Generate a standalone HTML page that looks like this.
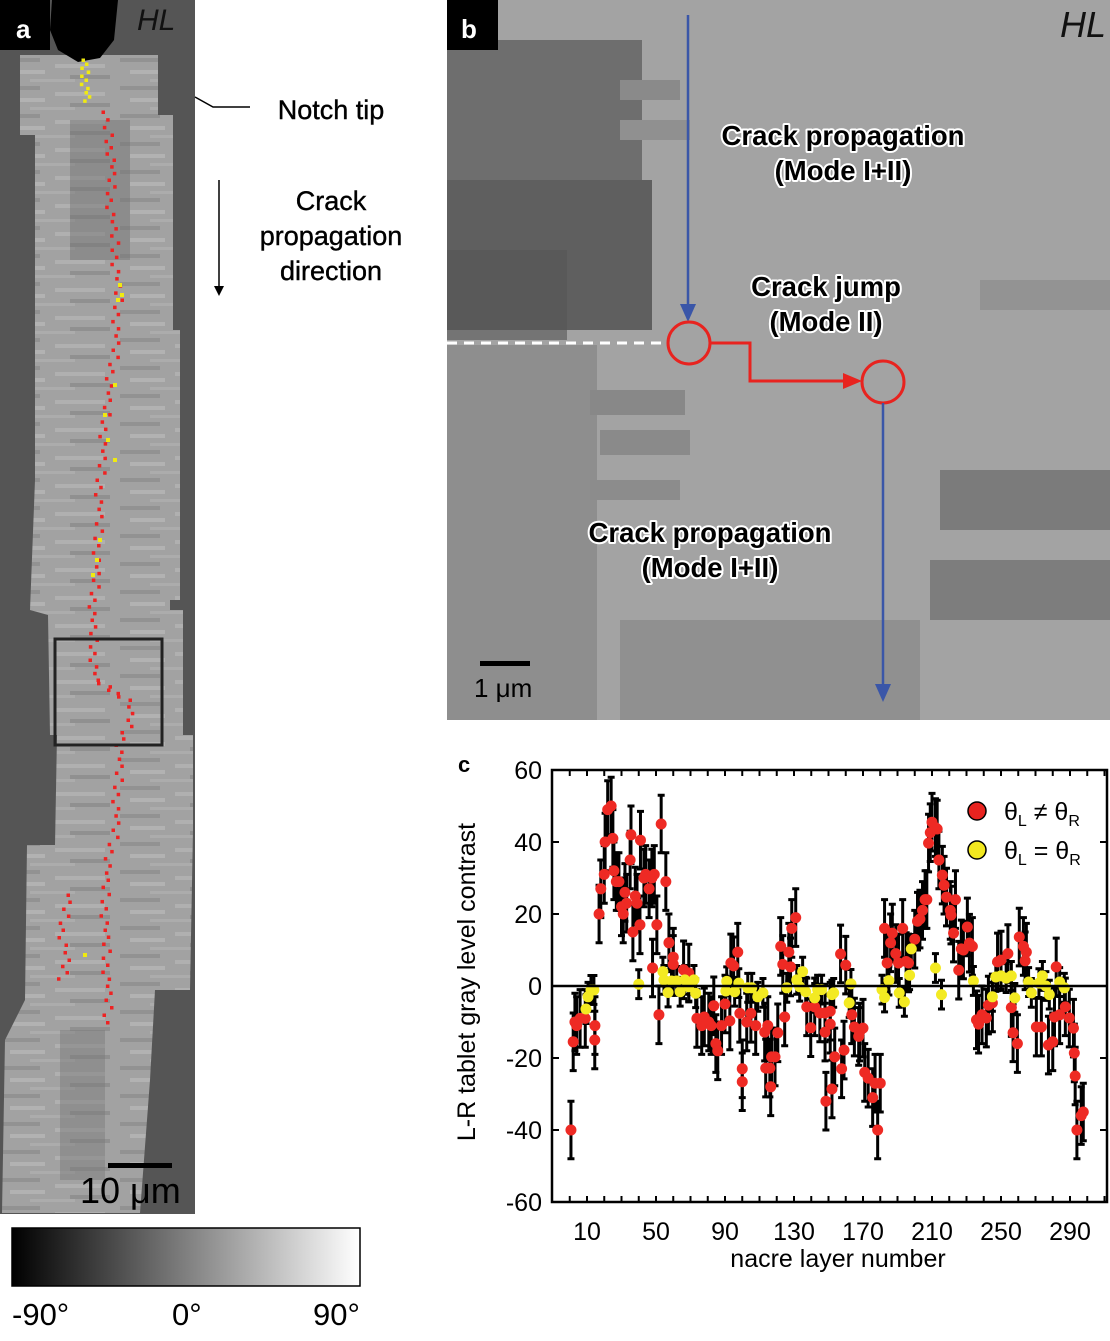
<!DOCTYPE html>
<html><head><meta charset="utf-8">
<style>
html,body{margin:0;padding:0;background:#fff;}
body{width:1110px;height:1336px;overflow:hidden;font-family:"Liberation Sans",Arial,sans-serif;}
svg text{font-family:"Liberation Sans",Arial,sans-serif;}
.halo{paint-order:stroke;stroke:#fff;stroke-width:4px;stroke-linejoin:round;font-weight:bold;}
</style></head>
<body>
<svg id="fig" width="1110" height="1336" viewBox="0 0 1110 1336" xmlns="http://www.w3.org/2000/svg">
<defs>
  <pattern id="stripes" width="120" height="28" patternUnits="userSpaceOnUse">
    <rect width="120" height="28" fill="#a2a2a2"/>
    <rect x="0" y="2" width="40" height="4" fill="#929292"/>
    <rect x="55" y="8" width="50" height="4" fill="#b0b0b0"/>
    <rect x="10" y="14" width="35" height="4" fill="#b2b2b2"/>
    <rect x="70" y="19" width="40" height="4" fill="#909090"/>
    <rect x="30" y="23" width="45" height="3" fill="#acacac"/>
  </pattern>
  <linearGradient id="cbar" x1="0" x2="1" y1="0" y2="0">
    <stop offset="0" stop-color="#000"/><stop offset="1" stop-color="#fff"/>
  </linearGradient>
  <clipPath id="clipB"><rect x="447" y="0" width="663" height="720"/></clipPath>
</defs>

<!-- Panel a -->
<g>
  <rect x="0" y="0" width="195" height="1214" fill="#555"/>
  <polygon fill="url(#stripes)" points="20,55 158,55 158,115 173,115 173,330 180,330 180,600 170,600 170,610 183,610 183,735 193,735 193,830 190,990 155,990 150,1080 140,1213 2,1213 5,1040 25,1000 27,845 55,845 57,735 50,735 48,615 30,610 35,480 35,135 20,135"/>
  <rect x="70" y="120" width="60" height="140" fill="#707070" opacity="0.45"/>
  <rect x="60" y="1030" width="45" height="150" fill="#777" opacity="0.45"/>
  <path d="M52,0 L118,0 L114,40 L100,58 L78,62 L58,50 L50,30 Z" fill="#000"/>
  <g id="crackDots"></g>
  <rect x="55" y="639" width="107" height="106" fill="none" stroke="#222" stroke-width="3"/>
  <rect x="0" y="0" width="50" height="50" fill="#000"/>
  <text x="16" y="38" font-size="26" font-weight="bold" fill="#fff">a</text>
  <text x="137" y="30" font-size="30" font-style="italic" fill="#111">HL</text>
  <rect x="108" y="1163" width="64" height="5" fill="#000"/>
  <text x="80" y="1203" font-size="36" fill="#000">10 μm</text>
</g>
<g>
  <polyline points="195,97 213,107 250,107" fill="none" stroke="#000" stroke-width="1.5"/>
  <text x="331" y="119" font-size="27" text-anchor="middle" stroke="#000" stroke-width="0.4">Notch tip</text>
  <line x1="219" y1="180" x2="219" y2="287" stroke="#000" stroke-width="1.5"/>
  <polygon points="214,286 224,286 219,296" fill="#000"/>
  <text x="331" y="210" font-size="27" text-anchor="middle" stroke="#000" stroke-width="0.4">Crack</text>
  <text x="331" y="245" font-size="27" text-anchor="middle" stroke="#000" stroke-width="0.4">propagation</text>
  <text x="331" y="280" font-size="27" text-anchor="middle" stroke="#000" stroke-width="0.4">direction</text>
</g>
<g>
  <rect x="12" y="1228" width="348" height="58" fill="url(#cbar)" stroke="#000" stroke-width="1.5"/>
  <text x="12" y="1325" font-size="31">-90°</text>
  <text x="172" y="1325" font-size="31">0°</text>
  <text x="313" y="1325" font-size="31">90°</text>
</g>

<!-- Panel b -->
<g clip-path="url(#clipB)">
  <rect x="447" y="0" width="663" height="720" fill="#a3a3a3"/>
  <rect x="447" y="40" width="195" height="200" fill="#6e6e6e"/>
  <rect x="447" y="180" width="205" height="150" fill="#5f5f5f"/>
  <rect x="447" y="250" width="120" height="90" fill="#555" opacity="0.6"/>
  <rect x="447" y="345" width="150" height="375" fill="#8e8e8e"/>
  <rect x="590" y="390" width="95" height="25" fill="#888"/>
  <rect x="600" y="430" width="90" height="25" fill="#8a8a8a"/>
  <rect x="590" y="480" width="90" height="20" fill="#8c8c8c"/>
  <rect x="620" y="80" width="60" height="20" fill="#8a8a8a"/>
  <rect x="620" y="120" width="70" height="20" fill="#909090"/>
  <rect x="940" y="470" width="170" height="60" fill="#7b7b7b"/>
  <rect x="930" y="560" width="180" height="60" fill="#7d7d7d"/>
  <rect x="980" y="280" width="130" height="30" fill="#939393"/>
  <rect x="620" y="620" width="300" height="100" fill="#909090"/>
  <rect x="447" y="0" width="51" height="50" fill="#000"/>
  <text x="461" y="38" font-size="26" font-weight="bold" fill="#fff">b</text>
  <text x="1060" y="37" font-size="36" font-style="italic" fill="#111">HL</text>
  <line x1="447" y1="343" x2="667" y2="343" stroke="#fff" stroke-width="3" stroke-dasharray="10,7"/>
  <line x1="688" y1="15" x2="688" y2="305" stroke="#3a56a8" stroke-width="2.5"/>
  <polygon points="680,304 696,304 688,322" fill="#3a56a8"/>
  <circle cx="689" cy="343" r="21" fill="none" stroke="#e8231f" stroke-width="3"/>
  <polyline points="710,343 750,343 750,381 845,381" fill="none" stroke="#e8231f" stroke-width="3"/>
  <polygon points="843,373 862,381 843,389" fill="#e8231f"/>
  <circle cx="883" cy="382" r="21" fill="none" stroke="#e8231f" stroke-width="3"/>
  <line x1="883" y1="403" x2="883" y2="685" stroke="#3a56a8" stroke-width="2.5"/>
  <polygon points="875,684 891,684 883,702" fill="#3a56a8"/>
  <text class="halo" x="843" y="145" font-size="27.5" text-anchor="middle">Crack propagation</text>
  <text class="halo" x="843" y="180" font-size="27.5" text-anchor="middle">(Mode I+II)</text>
  <text class="halo" x="826" y="296" font-size="27.5" text-anchor="middle">Crack jump</text>
  <text class="halo" x="826" y="331" font-size="27.5" text-anchor="middle">(Mode II)</text>
  <text class="halo" x="710" y="542" font-size="27.5" text-anchor="middle">Crack propagation</text>
  <text class="halo" x="710" y="577" font-size="27.5" text-anchor="middle">(Mode I+II)</text>
  <rect x="480" y="661" width="50" height="5" fill="#000"/>
  <text x="474" y="697" font-size="26" fill="#000">1 μm</text>
</g>

<!-- Panel c -->
<g id="chartC">
  <text x="458" y="772" font-size="22" font-weight="bold">c</text>
  <text transform="translate(475,982) rotate(-90)" font-size="25" text-anchor="middle">L-R tablet gray level contrast</text>
  <text x="838" y="1267" font-size="25" text-anchor="middle">nacre layer number</text>
  <g id="ticks"></g>
  <g id="bars"></g>
  <g id="pts"></g>
  <line id="zero" x1="552" x2="1107" stroke="#000" stroke-width="2.5"/>
  <rect x="552" y="770" width="555" height="432" fill="none" stroke="#000" stroke-width="2.5"/>
  <g>
    <circle cx="977" cy="811" r="9" fill="#e8231f" stroke="#000" stroke-width="1.5"/>
    <text x="1004" y="820" font-size="25">θ<tspan font-size="16" dy="6">L</tspan><tspan dy="-6"> ≠ θ</tspan><tspan font-size="16" dy="6">R</tspan></text>
    <circle cx="977" cy="850" r="9" fill="#f2e81f" stroke="#000" stroke-width="1.5"/>
    <text x="1004" y="859" font-size="25">θ<tspan font-size="16" dy="6">L</tspan><tspan dy="-6"> = θ</tspan><tspan font-size="16" dy="6">R</tspan></text>
  </g>
</g>
</svg>
<script>
// ---- Chart data (panel c) ----
const yTicks = [60, 40, 20, 0, -20, -40, -60];
const xTickLabels = [10, 50, 90, 130, 170, 210, 250, 290];
const redLayer = [0.7,2,3,4,6,9,14.6,14.5,17,18,20,20.5,22,24,25,25.6,27,28.5,30,31,32,33,35,35.5,36.6,38,39,40.7,41,43,44,46,47.6,49,50.5,51.7,53,55.7,48,57.5,60,60,66,69,73.7,76.5,78,80.6,82,83.5,84.7,85.8,88,90,92.8,93.4,95,97.4,98.6,100,100,102.6,105,107.8,113,113.6,116,114.8,117,116.5,119,120.6,122.3,123.5,124.6,127,128.7,131,128,137.4,139.7,142,145,148,148.5,152,151,148,151,153.6,157.6,159,157,160,163.5,165,168,170,167.5,171,173,175.6,177,178.5,180,182.5,184,186,187,189,190.6,193,195,196.4,200,201.6,203,204.5,206,207,208,209,210,212,213,214,216,217,218.4,220.6,221,223.6,222.5,225.5,227,228.2,230.5,231.7,233.4,235.8,237,239,241.5,242.7,245,248,250,254,256,257,259.5,260.6,263,264.7,264,270.5,273.4,277.5,280,282,281,284,287.3,289.6,292,292.5,293,294,296.5,297.7];
const redValue = [-40,-15.5,-10,-11,-9,-9,-11,-15,20,27,31,40,49,50,41,32,29,29,22,20,26,23,35,42,15,25,23,17,40.5,30,31,27,30,31,17,-8,45,29,5,12,8,6,4.5,3.6,-9,-11,-8.6,-10,-11,-5.5,-16,-18,-11,-5,-9.7,6.4,5.6,9.4,-7.6,-23,-26.6,-10,-7.6,-11,-12.8,-22.8,-22.8,-11,-19.7,-28,-19.7,-13,11,6,-8.6,9.4,16,19,5.3,-5.8,-11.6,-5.8,-7.5,-7.5,-32,-28.6,-7,-12.8,-10.6,-19.7,-23,-17.8,8.9,5.8,-8,-11.4,-12.8,-11.7,-14,-24,-25.6,-31,-27,-40,-27,16,6.4,12,14.7,9,6.4,16,6.8,6.4,13,18,18.6,21,24,24,39.7,42.6,45.5,44,43.6,35,30.8,28,24.7,21,19.7,24,14.7,4.4,10.3,10,16.4,11.9,11,-9.4,-10.6,-8,-8.9,-5.3,-4.7,6.7,7.2,9,-6,-13,-16,13.6,11,9.4,7,-11.4,-11.4,-16.4,-15.5,5.3,-8.6,-8,-5.8,-8.9,-11.7,-18.6,-25,-40,-36,-35];
const redError = 8;
const yellowLayer = [9.4,10.6,12.3,14,40,54,54.6,57,59,62,64,66.7,69,72,73,91,90.5,95.6,98,103.2,105.5,109,112,125.8,131.6,135,133.3,136.8,143.7,142,152,146,153,162,163,181,182.5,185,191,194,197,198,212,215.5,234,245,247,250,253,256,258,266,267.6,272,274,276,278,284,286.7];
const yellowValue = [-6.4,-3,-1.1,-1.1,0.5,4,1.7,-1.8,1.4,1.4,-1.6,1.7,-0.2,1.7,-2,1.3,-1.4,-1.6,0.8,-0.5,-0.5,-3,-1.9,-0.5,1.7,4,-0.2,-1.6,-1,-3.3,-2.4,-1,-1.9,-4.7,0.6,-1,-3.2,1.5,-1.9,-4.4,3,10.3,5,-2.4,1.4,-3,2.5,2.8,2.2,2.8,-3.3,1.1,-1.9,0.8,2.8,0,-2.4,1.1,-0.5];
const yellowError = 4;

const NS = "http://www.w3.org/2000/svg";
const X0 = 552, X1 = 1107, Y0 = 770, Y1 = 1202;
function xs(n){ return 587 + (n - 10) * (483 / 280); }
function ys(v){ return 986 - v * (432 / 120); }
function mk(tag, attrs, parent){ const e = document.createElementNS(NS, tag); for (const k in attrs) e.setAttribute(k, attrs[k]); parent.appendChild(e); return e; }

const ticks = document.getElementById('ticks');
yTicks.forEach(v => {
  const y = ys(v);
  const t1 = mk('line', {x1: X0, x2: X0 + 7, y1: y, y2: y, stroke: '#000', 'stroke-width': 2}, ticks);
  
  
  const t2 = mk('line', {x1: X1 - 7, x2: X1, y1: y, y2: y, stroke: '#000', 'stroke-width': 2}, ticks);
  
  
  const lb = mk('text', {x: 542, y: y + 9, 'font-size': 25, 'text-anchor': 'end'}, ticks);
  lb.textContent = v;
  
  
});
for (let n = 0; n <= 310; n += 10) {
  const x = xs(n);
  if (x < X0 || x > X1) continue;
  const a = mk('line', {x1: x, x2: x, y1: Y1, y2: Y1 - 6, stroke: '#000', 'stroke-width': 2}, ticks);
  
  
  const b = mk('line', {x1: x, x2: x, y1: Y0, y2: Y0 + 6, stroke: '#000', 'stroke-width': 2}, ticks);
  
  
}
xTickLabels.forEach(n => {
  const lb = mk('text', {x: xs(n), y: 1240, 'font-size': 25, 'text-anchor': 'middle'}, ticks);
  lb.textContent = n;
  
  
});
document.getElementById('zero').setAttribute('y1', ys(0));
document.getElementById('zero').setAttribute('y2', ys(0));

const bars = document.getElementById('bars'), pts = document.getElementById('pts');
function series(layers, vals, err, color, name, r){
  layers.forEach((n, i) => {
    const x = xs(n), y = ys(vals[i]), yt = ys(vals[i] + err), yb = ys(vals[i] - err);
    const g = mk('path', {d: `M${x},${yt}V${yb}M${x-3.5},${yt}H${x+3.5}M${x-3.5},${yb}H${x+3.5}`, stroke: '#000', 'stroke-width': 3, fill: 'none'}, bars);
    
    
    const c = mk('circle', {cx: x, cy: y, r: r, fill: color}, pts);
    
    
  });
}
series(redLayer, redValue, redError, '#ee2a24', 'red', 5.5);
series(yellowLayer, yellowValue, yellowError, '#f3ea22', 'yellow', 5.5);

// ---- Panel a crack path dots (image decoration) ----
const dots = document.getElementById('crackDots');
const redPath = [[103,112],[108,135],[112,160],[110,200],[115,250],[118,300],[115,350],[107,400],[100,480],[97,560],[92,620],[95,680],[128,700],[130,720],[120,745],[118,780],[115,830],[105,880],[105,930],[108,1000],[106,1030]];
const branch = [[68,895],[62,930],[66,960],[60,985]];
const yellowPath = [[83,60],[85,80],[87,105]];
const yellowSpots = [[120,285],[122,295],[118,300],[115,385],[105,415],[108,440],[115,460],[100,540],[97,560],[93,575],[85,955]];
const offs = [0,3,-2,4,-3,1,-4,2];
function along(path, step, col, nm){
  let k = 0;
  for (let i = 0; i < path.length - 1; i++) {
    const [xa, ya] = path[i], [xb, yb] = path[i+1];
    const len = Math.hypot(xb - xa, yb - ya), m = Math.max(1, Math.round(len / step));
    for (let j = 0; j < m; j++) {
      const t = j / m;
      const d = mk('rect', {x: xa + (xb - xa) * t + offs[k % 8] - 1.5, y: ya + (yb - ya) * t - 1.5, width: 3.5, height: 3.5, fill: col}, dots);
      
      
      k++;
    }
  }
}
along(redPath, 7, '#ee2222', 'red-crack-dot');
along(branch, 7, '#ee2222', 'red-crack-dot');
along(yellowPath, 4, '#f0ea10', 'yellow-crack-dot');
yellowSpots.forEach(([x, y]) => {
  const d = mk('rect', {x: x - 2, y: y - 2, width: 4, height: 4, fill: '#f0ea10'}, dots);
  
  
});
</script>
</body></html>
